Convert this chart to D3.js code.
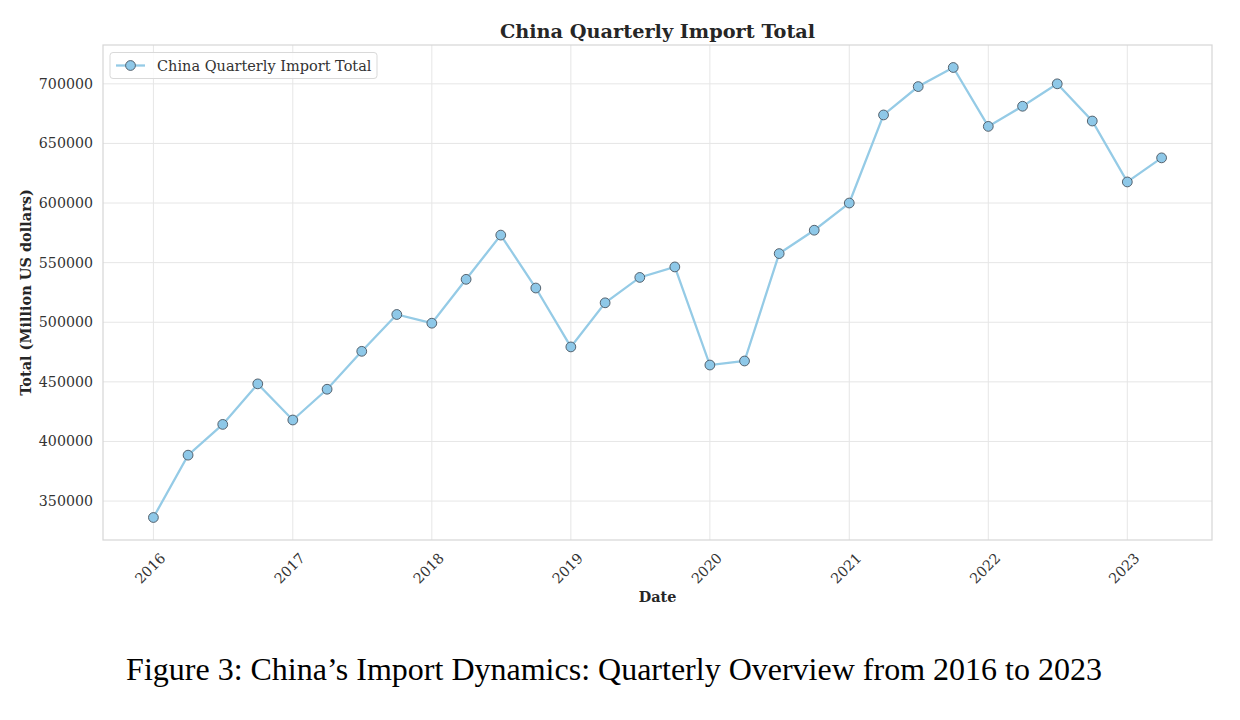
<!DOCTYPE html>
<html><head><meta charset="utf-8">
<script src="https://cdn.jsdelivr.net/npm/d3@7"></script>
<style>
body{margin:0;background:#fff;}
svg{display:block;}
</style></head>
<body><svg id="c" width="1240" height="720"></svg>
<script>
const dates = ["2016-01-01","2016-04-01","2016-07-01","2016-10-01","2017-01-01","2017-04-01","2017-07-01","2017-10-01",
"2018-01-01","2018-04-01","2018-07-01","2018-10-01","2019-01-01","2019-04-01","2019-07-01","2019-10-01",
"2020-01-01","2020-04-01","2020-07-01","2020-10-01","2021-01-01","2021-04-01","2021-07-01","2021-10-01",
"2022-01-01","2022-04-01","2022-07-01","2022-10-01","2023-01-01","2023-04-01"];
const totals = [336200,388500,414300,448300,418000,443800,475600,506500,
499200,536000,573100,528700,479300,516300,537600,546400,
464100,467500,557600,577200,600000,673900,697700,713700,
664300,681200,700000,668800,617700,637900];
const yTicks = [350000,400000,450000,500000,550000,600000,650000,700000];
const xTickYears = ["2016","2017","2018","2019","2020","2021","2022","2023"];
const seriesName = "China Quarterly Import Total";
const titleText = "China Quarterly Import Total";
const xLabel = "Date";
const yLabel = "Total (Million US dollars)";
const caption = "Figure 3: China\u2019s Import Dynamics: Quarterly Overview from 2016 to 2023";

const parse = d3.utcParse("%Y-%m-%d");
const data = dates.map((d,i)=>({date:parse(d), value:totals[i]}));

const svg = d3.select("#c");
const L=103, R=1212, T=45, B=540;
const serif = "'DejaVu Serif', serif";

const t0 = data[0].date.getTime(), t1 = data[data.length-1].date.getTime();
const span = t1 - t0;
const x = d3.scaleUtc().domain([new Date(t0-0.05*span), new Date(t1+0.05*span)]).range([L,R]);
const vmin = d3.min(totals), vmax = d3.max(totals), vr = vmax-vmin;
const y = d3.scaleLinear().domain([vmin-0.05*vr, vmax+0.05*vr]).range([B,T]);

const gridColor = "#e6e6e6";
const xTickDates = xTickYears.map(s=>parse(s+"-01-01"));
svg.append("g").selectAll("line").data(xTickDates).join("line")
  .attr("x1",d=>x(d)).attr("x2",d=>x(d)).attr("y1",T).attr("y2",B)
  .attr("stroke",gridColor).attr("stroke-width",1);
svg.append("g").selectAll("line").data(yTicks).join("line")
  .attr("x1",L).attr("x2",R).attr("y1",d=>y(d)).attr("y2",d=>y(d))
  .attr("stroke",gridColor).attr("stroke-width",1);

svg.append("rect").attr("x",L).attr("y",T).attr("width",R-L).attr("height",B-T)
  .attr("fill","none").attr("stroke","#d6d6d6").attr("stroke-width",1.2);

const tickSize = 14.2;
svg.append("g").selectAll("text").data(yTicks).join("text")
  .attr("x",L-10).attr("y",d=>y(d)).attr("dy","0.35em")
  .attr("text-anchor","end").attr("font-family",serif).attr("font-size",tickSize)
  .attr("fill","#333").text(d=>d3.format("d")(d));

svg.append("g").selectAll("text").data(xTickDates).join("text")
  .attr("transform",d=>`translate(${x(d)+6},${B+12}) rotate(-45)`)
  .attr("text-anchor","end").attr("dy","0.7em")
  .attr("font-family",serif).attr("font-size",tickSize).attr("fill","#333")
  .text(d=>d3.utcFormat("%Y")(d));

const lineColor = "#95cbe6";
svg.append("path").datum(data)
  .attr("d", d3.line().x(d=>x(d.date)).y(d=>y(d.value)))
  .attr("fill","none").attr("stroke",lineColor).attr("stroke-width",2.3);
svg.append("g").selectAll("circle").data(data).join("circle")
  .attr("cx",d=>x(d.date)).attr("cy",d=>y(d.value)).attr("r",4.9)
  .attr("fill","#8ec8e8").attr("stroke","#4a5560").attr("stroke-width",0.9);

svg.append("text").attr("x",(L+R)/2).attr("y",38).attr("text-anchor","middle")
  .attr("font-family",serif).attr("font-weight","bold").attr("font-size",19.3)
  .attr("fill","#262626").text(titleText);

svg.append("text").attr("x",(L+R)/2).attr("y",602).attr("text-anchor","middle")
  .attr("font-family",serif).attr("font-weight","bold").attr("font-size",14.4)
  .attr("fill","#262626").text(xLabel);
svg.append("text").attr("transform",`translate(31,${(T+B)/2}) rotate(-90)`)
  .attr("text-anchor","middle")
  .attr("font-family",serif).attr("font-weight","bold").attr("font-size",14.5)
  .attr("fill","#262626").text(yLabel);

const lg = svg.append("g");
lg.append("rect").attr("x",110).attr("y",52.5).attr("width",267).attr("height",26).attr("rx",3)
  .attr("fill","#fff").attr("fill-opacity",0.8).attr("stroke","#d9d9d9").attr("stroke-width",1);
lg.append("line").attr("x1",116).attr("x2",145).attr("y1",65.5).attr("y2",65.5)
  .attr("stroke",lineColor).attr("stroke-width",2.3);
lg.append("circle").attr("cx",130.5).attr("cy",65.5).attr("r",4.9)
  .attr("fill","#8ec8e8").attr("stroke","#4a5560").attr("stroke-width",0.9);
lg.append("text").attr("x",157).attr("y",65.5).attr("dy","0.35em")
  .attr("font-family",serif).attr("font-size",14.5).attr("fill","#333").text(seriesName);

svg.append("text").attr("x",614).attr("y",680).attr("text-anchor","middle")
  .attr("font-family","'Liberation Serif','Times New Roman',serif").attr("font-size",32)
  .attr("fill","#000").text(caption);
</script></body></html>
